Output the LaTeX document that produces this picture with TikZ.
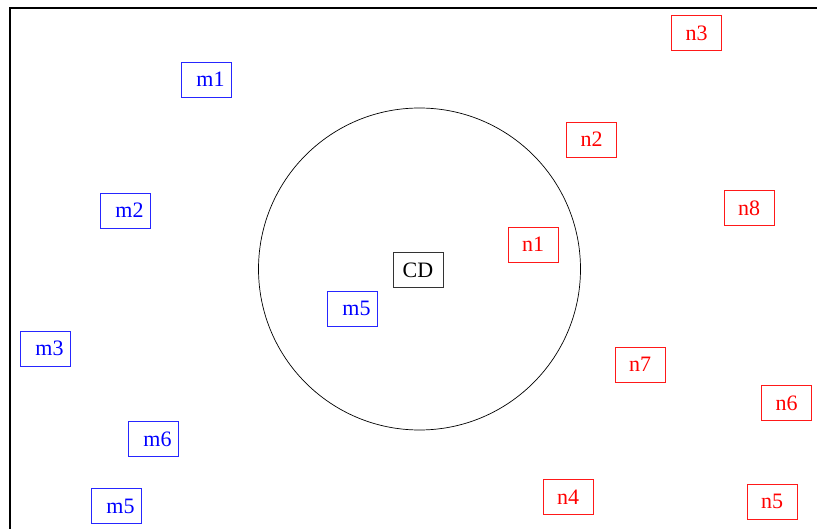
\documentclass[tikz,border=0pt]{standalone}
\usepackage{fontspec}
\setmainfont{Liberation Serif}
\begin{document}
\begin{tikzpicture}[x=1pt,y=-1pt,
  tag/.style={draw,line width=0.9pt,minimum width=50pt,minimum height=35pt,inner sep=0pt,font=\fontsize{22}{22}\selectfont},
  mtag/.style={tag,draw=blue!85,text=blue,execute at begin node=\hspace*{9pt}},
  ntag/.style={tag,draw=red!90,text=red},
  ctag/.style={tag,draw=black!80,text=black}]
\useasboundingbox (0,0) rectangle (817,529);
% frame edges
\draw[line width=2pt] (10,529) -- (10,8) -- (817,8);
% central region
\node[draw,circle,line width=0.7pt,minimum size=322pt,inner sep=0pt] (ring) at (419.5,269) {};
\node[ctag] (cd) at (418,270) {CD};
% blue group
\node[mtag] (m1) at (206,79.5) {m1};
\node[mtag] (m2) at (125,210.5) {m2};
\node[mtag] (m3) at (45,348.5) {m3};
\node[mtag] (m5a) at (352,308.5) {m5};
\node[mtag] (m6) at (153,439) {m6};
\node[mtag] (m5b) at (116,506) {m5};
% red group
\node[ntag] (n1) at (533,244.5) {n1};
\node[ntag] (n2) at (591.5,139.5) {n2};
\node[ntag] (n3) at (696.5,33) {n3};
\node[ntag] (n4) at (568,497) {n4};
\node[ntag] (n5) at (772,501.5) {n5};
\node[ntag] (n6) at (786.5,403) {n6};
\node[ntag] (n7) at (640,364.5) {n7};
\node[ntag] (n8) at (749,208) {n8};
\end{tikzpicture}
\end{document}
